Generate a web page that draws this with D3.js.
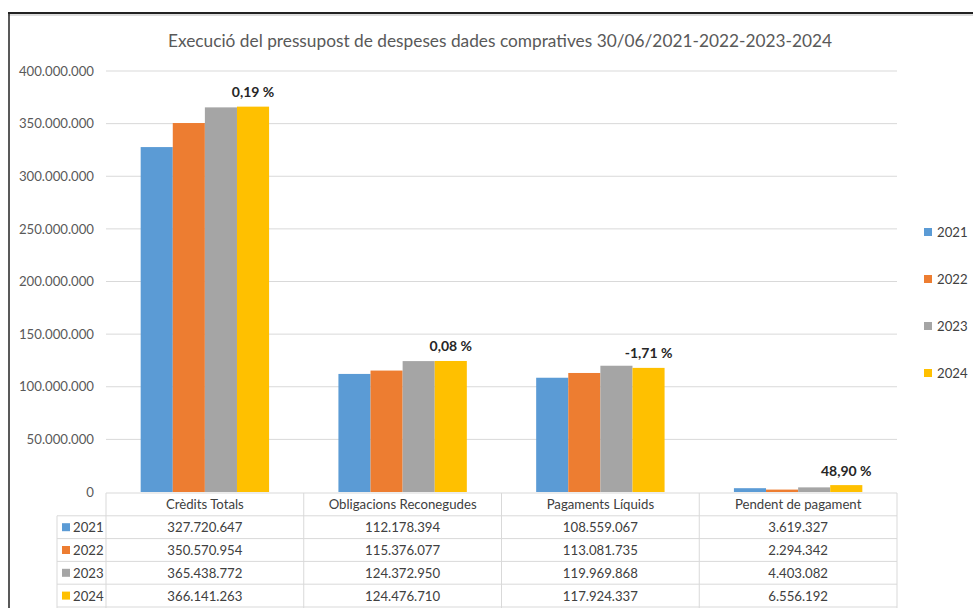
<!DOCTYPE html>
<html>
<head>
<meta charset="utf-8">
<script src="https://cdn.jsdelivr.net/npm/d3@7"></script>
<style>
  body { margin: 0; background: #fff; }
  svg { display: block; font-family: Lato, "Liberation Sans", Arial, sans-serif; }
</style>
</head>
<body>
<svg id="chart" width="973" height="608"></svg>
<script>
// data
const categories = ["Crèdits Totals", "Obligacions Reconegudes", "Pagaments Líquids", "Pendent de pagament"];
const years = ["2021", "2022", "2023", "2024"];
const values2021 = [327720647, 112178394, 108559067, 3619327];
const values2022 = [350570954, 115376077, 113081735, 2294342];
const values2023 = [365438772, 124372950, 119969868, 4403082];
const values2024 = [366141263, 124476710, 117924337, 6556192];
const pctLabels = ["0,19 %", "0,08 %", "-1,71 %", "48,90 %"];
const yTicks = [0, 50000000, 100000000, 150000000, 200000000, 250000000, 300000000, 350000000, 400000000];
const colors = ["#5B9BD5", "#ED7D31", "#A5A5A5", "#FFC000"];

const series = [values2021, values2022, values2023, values2024];

const svg = d3.select("#chart");
const locale = d3.formatLocale({decimal: ",", thousands: ".", grouping: [3], currency: ["", ""]});
const fmt = locale.format(",d");
const fs = 13.2;

// frame
svg.append("line").attr("x1", 8).attr("x2", 973).attr("y1", 15).attr("y2", 15)
  .attr("stroke", "#ddd").attr("stroke-width", 2);
svg.append("line").attr("x1", 8).attr("x2", 973).attr("y1", 13).attr("y2", 13)
  .attr("stroke", "#222").attr("stroke-width", 2);
svg.append("line").attr("x1", 9).attr("x2", 9).attr("y1", 13).attr("y2", 608)
  .attr("stroke", "#222").attr("stroke-width", 1.5);

// title
svg.append("text")
  .attr("x", 500).attr("y", 47)
  .attr("text-anchor", "middle")
  .attr("font-size", 17)
  .attr("fill", "#595959")
  .attr("textLength", 664).attr("lengthAdjust", "spacingAndGlyphs")
  .text("Execució del pressupost de despeses dades compratives 30/06/2021-2022-2023-2024");

const x = d3.scaleBand().domain(categories).range([106, 897]).paddingInner(0).paddingOuter(0);
const xs = d3.scaleBand().domain(years).range([0, x.bandwidth()]).paddingInner(0).paddingOuter(1.08);
const y = d3.scaleLinear().domain([0, 400000000]).range([492, 71]);

// grid
svg.append("g").selectAll("line").data(yTicks.filter(d => d > 0)).join("line")
  .attr("x1", 106).attr("x2", 897)
  .attr("y1", d => y(d)).attr("y2", d => y(d))
  .attr("stroke", "#D9D9D9").attr("stroke-width", 1);

// y axis labels
const yAxis = d3.axisLeft(y).tickValues(yTicks).tickFormat(d => d === 0 ? "0" : fmt(d)).tickSize(0).tickPadding(0);
const ya = svg.append("g").attr("transform", "translate(94,0)").call(yAxis);
ya.select(".domain").remove();
ya.selectAll("text").attr("font-size", fs).attr("fill", "#595959")
  .attr("font-family", "Lato, \"Liberation Sans\", Arial, sans-serif");

// bars
const groups = svg.append("g").selectAll("g").data(categories).join("g")
  .attr("transform", d => `translate(${x(d)},0)`);
groups.selectAll("rect")
  .data((c, i) => series.map((s, k) => ({year: years[k], v: s[i], k})))
  .join("rect")
  .attr("x", d => xs(d.year))
  .attr("width", xs.bandwidth())
  .attr("y", d => y(d.v))
  .attr("height", d => y(0) - y(d.v))
  .attr("fill", d => colors[d.k]);

// percentage labels above 2024 bars
groups.append("text")
  .attr("x", xs("2024") + xs.bandwidth() / 2)
  .attr("y", (c, i) => y(values2024[i]) - 9.5)
  .attr("text-anchor", "middle")
  .attr("font-size", 14)
  .attr("font-weight", "bold")
  .attr("fill", "#262626")
  .text((c, i) => pctLabels[i]);

// data table
const rowTop = 493, rowH = 22.8;
const tbl = svg.append("g");
const lineCol = "#D9D9D9";
tbl.append("line").attr("x1", 106).attr("x2", 897).attr("y1", rowTop).attr("y2", rowTop).attr("stroke", lineCol);
for (let r = 1; r <= 5; r++) {
  tbl.append("line").attr("x1", 57).attr("x2", 897)
    .attr("y1", rowTop + r * rowH).attr("y2", rowTop + r * rowH).attr("stroke", lineCol);
}
tbl.append("line").attr("x1", 57).attr("x2", 57).attr("y1", rowTop + rowH).attr("y2", 608).attr("stroke", lineCol);
const edges = categories.map(c => x(c)).concat([x.range()[1]]);
tbl.selectAll(".v").data(edges).join("line")
  .attr("x1", d => d).attr("x2", d => d)
  .attr("y1", rowTop).attr("y2", 608).attr("stroke", lineCol);

tbl.selectAll(".h").data(categories).join("text")
  .attr("x", d => x(d) + x.bandwidth() / 2)
  .attr("y", rowTop + rowH / 2 + 5)
  .attr("text-anchor", "middle")
  .attr("font-size", fs)
  .attr("fill", "#404040")
  .text(d => d);

series.forEach((s, k) => {
  const cy = rowTop + (k + 1) * rowH + rowH / 2;
  tbl.append("rect").attr("x", 62).attr("y", cy - 4).attr("width", 8).attr("height", 8).attr("fill", colors[k]);
  tbl.append("text").attr("x", 73).attr("y", cy + 5)
    .attr("font-size", fs).attr("fill", "#404040").text(years[k]);
  tbl.selectAll(null).data(categories).join("text")
    .attr("x", d => x(d) + x.bandwidth() / 2)
    .attr("y", cy + 5)
    .attr("text-anchor", "middle")
    .attr("font-size", fs)
    .attr("fill", "#404040")
    .text((d, i) => fmt(s[i]));
});

// legend
const legend = svg.append("g").selectAll("g").data(years).join("g")
  .attr("transform", (d, i) => `translate(924,${232 + i * 47})`);
legend.append("rect").attr("x", 0).attr("y", -4).attr("width", 8).attr("height", 8)
  .attr("fill", (d, i) => colors[i]);
legend.append("text").attr("x", 13).attr("y", 5)
  .attr("font-size", fs).attr("fill", "#404040").text(d => d);
</script>
</body>
</html>
